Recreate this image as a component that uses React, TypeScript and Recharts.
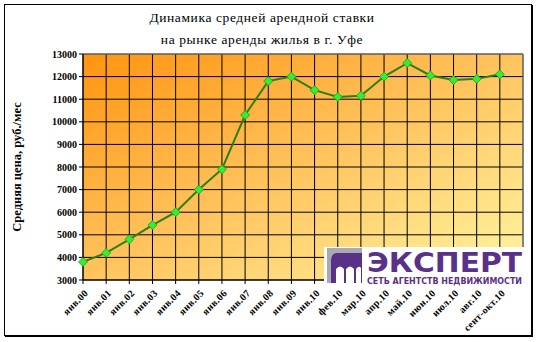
import { CartesianGrid, Line, LineChart, ReferenceLine, XAxis, YAxis } from "recharts"

const labels = [
  "янв.00", "янв.01", "янв.02", "янв.03", "янв.04", "янв.05", "янв.06", "янв.07", "янв.08", "янв.09", "янв.10",
  "фев.10", "мар.10", "апр.10", "май.10", "июн.10", "июл.10", "авг.10", "сент-окт.10",
]
const prices = [3800, 4200, 4800, 5430, 6000, 7000, 7900, 10300, 11800, 12000, 11400, 11100, 11150, 12000, 12600, 12050, 11850, 11900, 12100]
const yTicks = [3000, 4000, 5000, 6000, 7000, 8000, 9000, 10000, 11000, 12000, 13000]
const xTicks = Array.from({ length: labels.length + 1 }, (_, i) => i)

const data = prices.map((p, i) => ({ i, label: labels[i], price: p }))

const SERIF = "'Liberation Serif', 'Times New Roman', 'DejaVu Serif', serif"
const PURPLE = "#5a3189"

function XTick({ x, y, payload }: { x?: number; y?: number; payload?: { value: number } }) {
  const text = labels[payload?.value ?? -1] ?? ""
  return (
    <g transform={`translate(${(x ?? 0) + 3},${(y ?? 0) + 5})`}>
      <text transform="rotate(-45)" textAnchor="end" dy={4} fontFamily={SERIF} fontSize={10} fontWeight="bold" letterSpacing={0.3} fill="#000">
        {text}
      </text>
    </g>
  )
}

function Diamond({ cx, cy }: { cx?: number; cy?: number }) {
  if (cx == null || cy == null) return null
  const r = 4.5
  return <path d={`M${cx},${cy - r}L${cx + r},${cy}L${cx},${cy + r}L${cx - r},${cy}Z`} fill="#33ee33" stroke="#1f9a1f" strokeWidth={0.8} />
}

function Logo() {
  return (
    <svg width={202} height={40} style={{ position: "absolute", left: 324, top: 247 }}>
      <rect x={0} y={0} width={202} height={40} fill="#fff" />
      <rect x={3} y={1} width={35} height={35} fill={PURPLE} />
      <path d="M3,1 L38,1 L38,6 L12,6 Q7,7 7,14 L7,36 L3,36 Z" fill="#a9a9b3" />
      <path d="M12,36 L12,22 Q16,17 20,22 L20,36 Z" fill="#fff" />
      <path d="M22,36 L22,22 Q26,17 30,22 L30,36 Z" fill="#fff" />
      <path d="M32,36 L32,22 Q35,18 37,21 L37,36 Z" fill="#fff" />
      <text x={43} y={25} fontFamily="'DejaVu Sans', sans-serif" fontWeight="bold" fontSize={27} fill={PURPLE} textLength={155} lengthAdjust="spacingAndGlyphs">
        ЭКСПЕРТ
      </text>
      <text x={43} y={37} fontFamily="'DejaVu Sans', sans-serif" fontWeight="bold" fontSize={8} fill={PURPLE} textLength={155} lengthAdjust="spacingAndGlyphs">
        СЕТЬ АГЕНТСТВ НЕДВИЖИМОСТИ
      </text>
    </svg>
  )
}

export default function App() {
  return (
    <div style={{ position: "relative", width: 536, height: 342, background: "#fff" }}>
      <style>{"body{margin:0}"}</style>
      <div style={{ position: "absolute", left: 4, top: 4, width: 526, height: 330, border: "1px solid #000", boxShadow: "1px 1px 0 #000" }} />
      <div style={{ position: "absolute", left: 0, top: 7, width: 536, textAlign: "center", fontFamily: SERIF, fontSize: 13.5, lineHeight: "22px", letterSpacing: 0.6, paddingRight: 12, boxSizing: "border-box" }}>
        <div>Динамика средней арендной ставки</div>
        <div>на рынке аренды жилья в г. Уфе</div>
      </div>
      <div style={{ position: "absolute", left: 0, top: 0 }}>
        <LineChart width={536} height={342} data={data} margin={{ top: 54, right: 13, bottom: 0, left: 0 }}>
          <defs>
            <linearGradient id="bg" x1="0" y1="0" x2="1" y2="1">
              <stop offset="0%" stopColor="#ff9410" />
              <stop offset="50%" stopColor="#ffc45e" />
              <stop offset="100%" stopColor="#fff7a4" />
            </linearGradient>
          </defs>
          <CartesianGrid fill="url(#bg)" fillOpacity={1} stroke="#000" strokeWidth={1} />
          <XAxis
            dataKey="i"
            type="number"
            domain={[0, labels.length]}
            ticks={xTicks}
            interval={0}
            height={62}
            tick={<XTick />}
            tickSize={4}
            stroke="#000"
          />
          <YAxis
            type="number"
            domain={[3000, 13000]}
            ticks={yTicks}
            interval={0}
            width={83}
            tickSize={4}
            stroke="#000"
            tick={{ fontFamily: SERIF, fontSize: 10, fontWeight: "bold", fill: "#000" }}
            label={{ value: "Средняя цена, руб./мес", angle: -90, position: "insideLeft", dx: 12, style: { fontFamily: SERIF, fontSize: 12.5, fontWeight: "bold", fill: "#000", textAnchor: "middle" } }}
          />
          <ReferenceLine y={13000} stroke="#8a8a8a" />
          <ReferenceLine x={labels.length} stroke="#8a8a8a" />
          <Line
            type="linear"
            dataKey="price"
            stroke="#2f7d16"
            strokeWidth={2}
            dot={<Diamond />}
            activeDot={false}
            isAnimationActive={false}
          />
        </LineChart>
      </div>
      <Logo />
    </div>
  )
}
